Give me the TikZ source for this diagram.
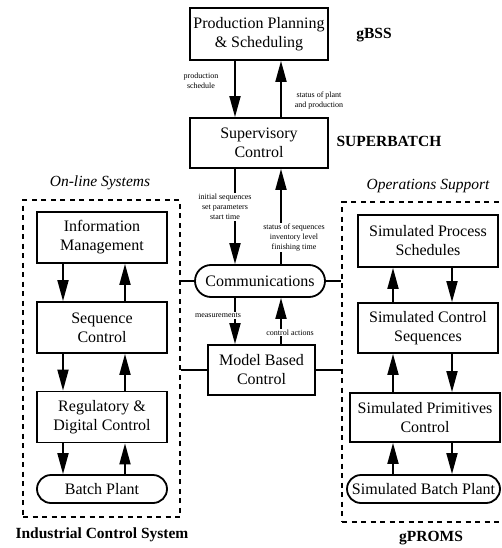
\documentclass[tikz,border=0pt]{standalone}
\usepackage{fontspec}
\setmainfont{Liberation Serif}
\usetikzlibrary{arrows.meta, positioning}
\tikzset{
  unit/.style={
    rectangle, draw, line width=1.8pt, fill=white,
    align=center, inner sep=1pt,
    font=\fontsize{16}{19}\selectfont
  },
  plant/.style={
    rectangle, rounded corners=14pt, draw, line width=1.8pt, fill=white,
    inner sep=1pt, font=\fontsize{16}{19}\selectfont
  },
  system/.style={
    rectangle, draw, line width=1.8pt, dash pattern=on 5pt off 4.5pt
  },
  flow/.style={line width=1.8pt, -{Triangle[length=21pt,width=11pt]}},
  link/.style={line width=1.5pt},
  note/.style={font=\fontsize{8}{10}\selectfont, align=center, fill=white, inner sep=1pt},
  caption/.style={font=\fontsize{15.5}{18}\selectfont\bfseries},
  grouptitle/.style={font=\fontsize{15.5}{18}\selectfont\itshape}
}

\begin{document}
\begin{tikzpicture}[x=1pt, y=-1pt]
\useasboundingbox (0,0) rectangle (501,548);

% arrow columns
\coordinate (cl) at (235,0);
\coordinate (cr) at (281,0);
\coordinate (ll) at (63,0);
\coordinate (lr) at (125,0);
\coordinate (rl) at (393,0);
\coordinate (rr) at (452,0);

% dashed groups
\node[system, minimum width=157pt, minimum height=317pt] (online) at (101.5,358.5) {};
\node[system, minimum width=170pt, minimum height=320pt] (opsup) at (427,362) {};
\node[grouptitle] (onlinetitle) at (100,183) {On-line Systems};
\node[grouptitle] (opsuptitle) at (428,186) {Operations Support};
\node[caption] (icsname) at (102,535) {Industrial Control System};
\node[caption] (gpromsname) at (431,538) {gPROMS};

% planning, supervision, communications
\node[unit, minimum width=138pt, minimum height=52pt] (plan) at (259,34) {Production Planning\\\& Scheduling};
\node[unit, minimum width=138pt, minimum height=50pt] (super) at (259,143) {Supervisory\\Control};
\node[plant, rounded corners=16pt, minimum width=130pt, minimum height=32pt] (comm) at (260,281) {Communications};
\node[unit, minimum width=107pt, minimum height=50pt] (mbc) at (261.5,370) {Model Based\\Control};
\node[caption] (gbss) at (374,35) {gBSS};
\node[caption, anchor=west] (sbatch) at (333,141) {SUPERBATCH};

% on-line systems
\node[unit, minimum width=130pt, minimum height=51pt] (info) at (102,237.5) {Information\\Management};
\node[unit, minimum width=130pt, minimum height=51pt] (seq) at (102,327.5) {Sequence\\Control};
\node[unit, minimum width=130pt, minimum height=51pt] (reg) at (102,417) {Regulatory \&\\Digital Control};
\node[plant, minimum width=130pt, minimum height=28pt] (batch) at (102,489) {Batch Plant};

% operations support
\node[unit, minimum width=140pt, minimum height=52pt] (simsched) at (428,241) {Simulated Process\\Schedules};
\node[unit, minimum width=140pt, minimum height=50pt] (simseq) at (428,328) {Simulated Control\\Sequences};
\node[unit, minimum width=150pt, minimum height=49pt] (simprim) at (425,417.5) {Simulated Primitives\\Control};
\node[plant, minimum width=153pt, minimum height=28pt] (simbatch) at (423.5,489) {Simulated Batch Plant};

% centre column
\draw[flow] (plan.south -| cl) -- (super.north -| cl);
\draw[flow] (super.north -| cr) -- (plan.south -| cr);
\node[note] (schedlabel) at (201,80.5) {production\\schedule};
\node[note] (statlabel) at (319,101) {status of plant\\and production};
\draw[flow] (super.south -| cl) -- node[note, pos=0.4, xshift=-10pt] (initlabel) {initial sequences\\set parameters\\start time} (comm.north -| cl);
\draw[flow] (comm.north -| cr) -- node[note, pos=0.28, xshift=13pt] (seqlabel) {status of sequences\\inventory level\\finishing time} (super.south -| cr);
\draw[flow] (comm.south -| cl) -- node[note, pos=0.375, xshift=-17pt] (measlabel) {measurements} (mbc.north -| cl);
\draw[flow] (mbc.north -| cr) -- node[note, pos=0.25, xshift=9pt] (actlabel) {control actions} (comm.south -| cr);

\draw[link] (comm.west) -- (comm.west -| online.east);
\draw[link] (comm.east) -- (comm.east -| opsup.west);
\draw[link] (mbc.west) -- (mbc.west -| online.east);
\draw[link] (mbc.east) -- (mbc.east -| opsup.west);

% side columns
\foreach \a/\b in {info/seq, seq/reg, reg/batch} {
  \draw[flow] (\a.south -| ll) -- (\b.north -| ll);
  \draw[flow] (\b.north -| lr) -- (\a.south -| lr);
}
\foreach \a/\b in {simsched/simseq, simseq/simprim, simprim/simbatch} {
  \draw[flow] (\b.north -| rl) -- (\a.south -| rl);
  \draw[flow] (\a.south -| rr) -- (\b.north -| rr);
}
\end{tikzpicture}
\end{document}
